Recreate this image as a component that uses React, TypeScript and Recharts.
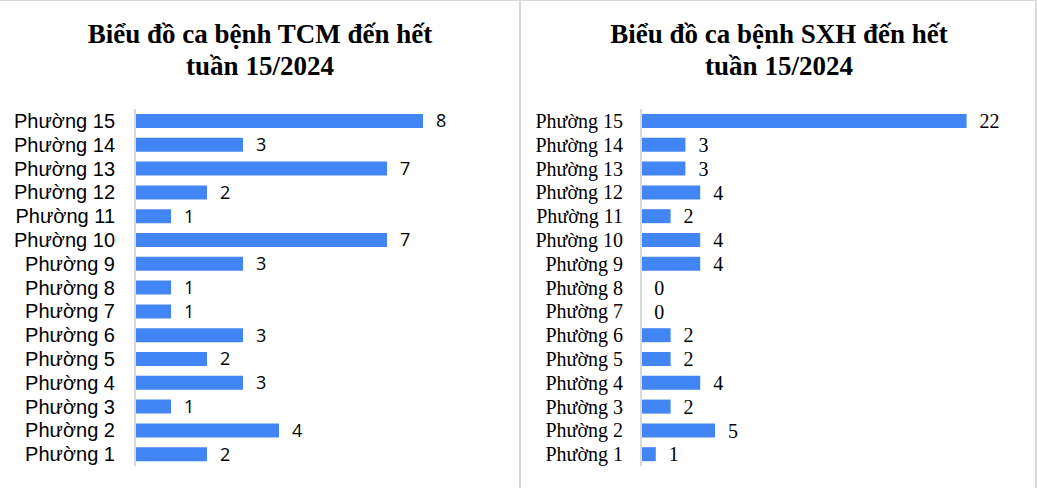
import React from 'react'
import { BarChart, Bar, XAxis, YAxis, LabelList } from 'recharts'

// top-to-bottom order, as in the picture
const WARDS = [
  'Phường 15', 'Phường 14', 'Phường 13', 'Phường 12', 'Phường 11',
  'Phường 10', 'Phường 9', 'Phường 8', 'Phường 7', 'Phường 6',
  'Phường 5', 'Phường 4', 'Phường 3', 'Phường 2', 'Phường 1',
]
const TCM_CASES = [8, 3, 7, 2, 1, 7, 3, 1, 1, 3, 2, 3, 1, 4, 2]
const SXH_CASES = [22, 3, 3, 4, 2, 4, 4, 0, 0, 2, 2, 4, 2, 5, 1]

const TCM_TITLE = ['Biểu đồ ca bệnh TCM đến hết', 'tuần 15/2024']
const SXH_TITLE = ['Biểu đồ ca bệnh SXH đến hết', 'tuần 15/2024']

const BAR_COLOR = '#4285F4'
const AXIS_COLOR = '#d9d9d9'
const SANS = '"Liberation Sans", Arial, sans-serif'
const SERIF = '"Liberation Serif", "Times New Roman", serif'

interface PanelProps {
  left: number
  width: number
  title: string[]
  values: number[]
  max: number
  axisWidth: number
  marginRight: number
  tickMargin: number
  tickFont: string
  labelFont: string
  labelSize: number
}

const Panel: React.FC<PanelProps> = ({
  left, width, title, values, max, axisWidth, marginRight, tickMargin, tickFont, labelFont, labelSize,
}) => {
  const data = WARDS.map((name, i) => ({ name, value: values[i] }))
  return (
    <div style={{ position: 'absolute', left, top: 0, width, height: 488 }}>
      <div
        style={{
          position: 'absolute', top: 17, left: 0, width, textAlign: 'center',
          fontFamily: SERIF, fontWeight: 'bold', fontSize: 27, lineHeight: '32px', color: '#000',
        }}
      >
        {title.map((t) => <div key={t}>{t}</div>)}
      </div>
      <div style={{ position: 'absolute', left: 0, top: 0 }}>
        <BarChart
          layout="vertical"
          width={width}
          height={488}
          data={data}
          margin={{ top: 108, right: marginRight, bottom: 23, left: 0 }}
        >
          <XAxis type="number" hide domain={[0, max]} />
          <YAxis
            type="category"
            dataKey="name"
            width={axisWidth}
            interval={0}
            tickLine={false}
            tickSize={0}
            tickMargin={tickMargin}
            axisLine={{ stroke: AXIS_COLOR, strokeWidth: 2 }}
            tick={{ fill: '#000', fontSize: 20, fontFamily: tickFont }}
          />
          <Bar dataKey="value" fill={BAR_COLOR} barSize={14} minPointSize={0.3} isAnimationActive={false}>
            <LabelList
              dataKey="value"
              position="right"
              offset={13}
              style={{ fill: '#000', fontSize: labelSize, fontFamily: labelFont }}
            />
          </Bar>
        </BarChart>
      </div>
    </div>
  )
}

export default function App() {
  return (
    <div
      style={{
        position: 'absolute', left: 0, top: 0, width: 1037, height: 488,
        background: '#fff', borderTop: `1px solid ${AXIS_COLOR}`, boxSizing: 'border-box',
      }}
    >
      <Panel
        left={0}
        width={520}
        title={TCM_TITLE}
        values={TCM_CASES}
        max={10}
        axisWidth={135}
        marginRight={25}
        tickMargin={20}
        tickFont={SANS}
        labelFont={'"Open Sans", sans-serif'}
        labelSize={18}
      />
      <div style={{ position: 'absolute', left: 519, top: 0, width: 2, height: 488, background: AXIS_COLOR }} />
      <Panel
        left={521}
        width={516}
        title={SXH_TITLE}
        values={SXH_CASES}
        max={25}
        axisWidth={120}
        marginRight={26}
        tickMargin={18}
        tickFont={SERIF}
        labelFont={SERIF}
        labelSize={20}
      />
      <div style={{ position: 'absolute', left: 1035, top: 0, width: 2, height: 488, background: AXIS_COLOR }} />
    </div>
  )
}
